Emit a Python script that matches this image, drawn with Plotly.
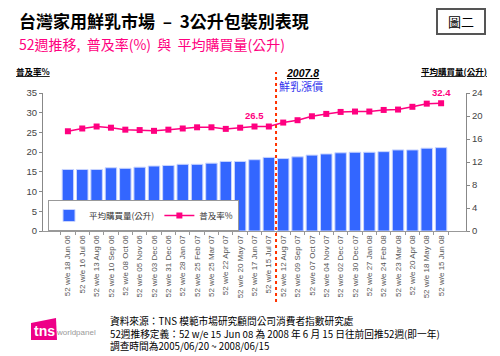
import plotly.graph_objects as go

categories = [
    "52 w/e 18 Jun 06", "52 w/e 16 Jul 06", "52 w/e 13 Aug 06", "52 w/e 10 Sep 06",
    "52 w/e 08 Oct 06", "52 w/e 05 Nov 06", "52 w/e 03 Dec 06", "52 w/e 31 Dec 06",
    "52 w/e 28 Jan 07", "52 w/e 25 Feb 07", "52 w/e 25 Mar 07", "52 w/e 22 Apr 07",
    "52 w/e 20 May 07", "52 w/e 17 Jun 07", "52 w/e 15 Jul 07", "52 w/e 12 Aug 07",
    "52 w/e 09 Sep 07", "52 w/e 07 Oct 07", "52 w/e 04 Nov 07", "52 w/e 02 Dec 07",
    "52 w/e 30 Dec 07", "52 w/e 27 Jan 08", "52 w/e 24 Feb 08", "52 w/e 23 Mar 08",
    "52 w/e 20 Apr 08", "52 w/e 18 May 08", "52 w/e 15 Jun 08",
]
avg_volume = [10.7, 10.7, 10.7, 11.0, 10.9, 11.1, 11.3, 11.4, 11.6, 11.6, 11.8, 12.1, 12.1,
              12.4, 12.8, 12.6, 12.9, 13.2, 13.4, 13.6, 13.7, 13.7, 13.8, 14.1, 14.1, 14.4, 14.5]
penetration = [25.3, 26.0, 26.5, 26.2, 25.7, 25.6, 25.4, 25.7, 26.0, 26.3, 26.3, 25.9, 26.2,
               26.5, 26.5, 27.5, 28.1, 29.1, 29.7, 30.2, 30.3, 30.3, 30.7, 30.8, 31.5, 32.3, 32.4]
left_ticks = [0, 5, 10, 15, 20, 25, 30, 35]
right_ticks = [0, 4, 8, 12, 16, 20, 24]
labeled_points = [13, 26]
footer_lines = [
    "資料來源：TNS 模範市場研究顧問公司消費者指數研究處",
    "52週推移定義：52 w/e 15 Jun 08 為 2008 年 6 月 15 日往前回推52週(即一年)",
    "調查時間為2005/06/20 ~ 2008/06/15",
]

BAR_NAME = "平均購買量(公升)"
LINE_NAME = "普及率%"
PINK = "#FF0080"
BLUE = "#3366FF"
CJK = "Noto Sans CJK TC"
LAT = "Liberation Sans, Arial"

L, R, T, B = 43, 466, 93, 231
W, H = 500, 356


def px(x):
    return (x - L) / (R - L)


def py(y):
    return (B - y) / (B - T)


fig = go.Figure()
fig.add_trace(go.Bar(
    x=categories, y=avg_volume, name=BAR_NAME, yaxis="y",
    marker=dict(color=BLUE, line=dict(color="#C8D4FF", width=1)),
))
fig.add_trace(go.Scatter(
    x=categories, y=penetration, name=LINE_NAME, yaxis="y2", mode="lines+markers",
    line=dict(color=PINK, width=1.5),
    marker=dict(symbol="square", size=6, color=PINK),
))

annotations = []
for i in labeled_points:
    annotations.append(dict(
        x=categories[i], y=penetration[i], xref="x", yref="y2", yshift=11,
        text=f"<b>{penetration[i]}</b>", showarrow=False,
        font=dict(family=LAT, size=9.5, color=PINK),
    ))


def txt(x, y, text, size, color="#000", family=CJK, xanchor="left", weight=None):
    font = dict(family=family, size=size, color=color)
    if weight:
        font["weight"] = weight
    annotations.append(dict(
        x=px(x), y=py(y), xref="paper", yref="paper", text=text, showarrow=False,
        xanchor=xanchor, yanchor="middle", align="left", font=font,
    ))


txt(17, 21, "台灣家用鮮乳市場  –  3公升包裝別表現", 17, weight=700)
txt(17, 44, "52週推移,  普及率(%)  與  平均購買量(公升)", 14, PINK)
txt(461, 21.5, "圖二", 13, "#000", xanchor="center")
txt(14, 71, "<u><b>普及率%</b></u>", 8.5)
txt(489, 71, "<u><b>平均購買量(公升)</b></u>", 8.5, xanchor="right")
txt(302, 73, "<u><b><i>2007.8</i></b></u>", 10.5, "#000", LAT, xanchor="center")
txt(301, 86, "鮮乳漲價", 11, "#3333EE", xanchor="center")
txt(108, 333, "<br>".join(footer_lines), 9.7)
txt(44, 331, "<b>tns</b>", 14, "#FFFFFF", LAT, xanchor="center")
txt(54, 332, "worldpanel", 8, "#999999", LAT)

shapes = [
    dict(type="line", xref="x", yref="paper", x0=14.5, x1=14.5, y0=py(302), y1=py(72),
         line=dict(color="#FF3300", width=2, dash="dot")),
    dict(type="rect", xref="paper", yref="paper", x0=px(437), x1=px(485), y0=py(9), y1=py(34),
         line=dict(color="#555555", width=2)),
    dict(type="path", xref="paper", yref="paper", layer="below",
         path=(f"M {px(31)},{py(323)} L {px(56)},{py(318)} L {px(57)},{py(340)} "
               f"L {px(31)},{py(340)} Z"),
         fillcolor="#EE0088", line=dict(width=0)),
]

fig.update_layout(
    width=W, height=H,
    margin=dict(l=L, r=W - R, t=T, b=H - B, pad=0),
    paper_bgcolor="white", plot_bgcolor="white",
    bargap=0.2,
    showlegend=True,
    legend=dict(
        x=px(48), y=py(200), xanchor="left", yanchor="top", orientation="h",
        bordercolor="#999999", borderwidth=1, bgcolor="white", itemwidth=30,
        font=dict(family=CJK, size=8.5, color="#333"),
    ),
    xaxis=dict(
        type="category", tickangle=-90, tickson="boundaries", ticks="outside", ticklen=3,
        tickcolor="#999", showline=True, linecolor="#999", showgrid=False,
        tickfont=dict(family=LAT, size=8, color="#555"),
    ),
    yaxis=dict(
        side="right", range=[0, 24], tickvals=right_ticks, ticks="outside", ticklen=3,
        tickcolor="#888", showline=True, linecolor="#888", showgrid=False, zeroline=False,
        tickfont=dict(family=LAT, size=9.5, color="#444"),
    ),
    yaxis2=dict(
        side="left", overlaying="y", range=[0, 35], tickvals=left_ticks, ticks="outside",
        ticklen=3, tickcolor="#888", showline=True, linecolor="#888", showgrid=False,
        zeroline=False, tickfont=dict(family=LAT, size=9.5, color="#444"),
    ),
    annotations=annotations,
    shapes=shapes,
)

fig.write_html("out.html", config={"displayModeBar": False},
               post_script="document.body.style.margin='0';")
